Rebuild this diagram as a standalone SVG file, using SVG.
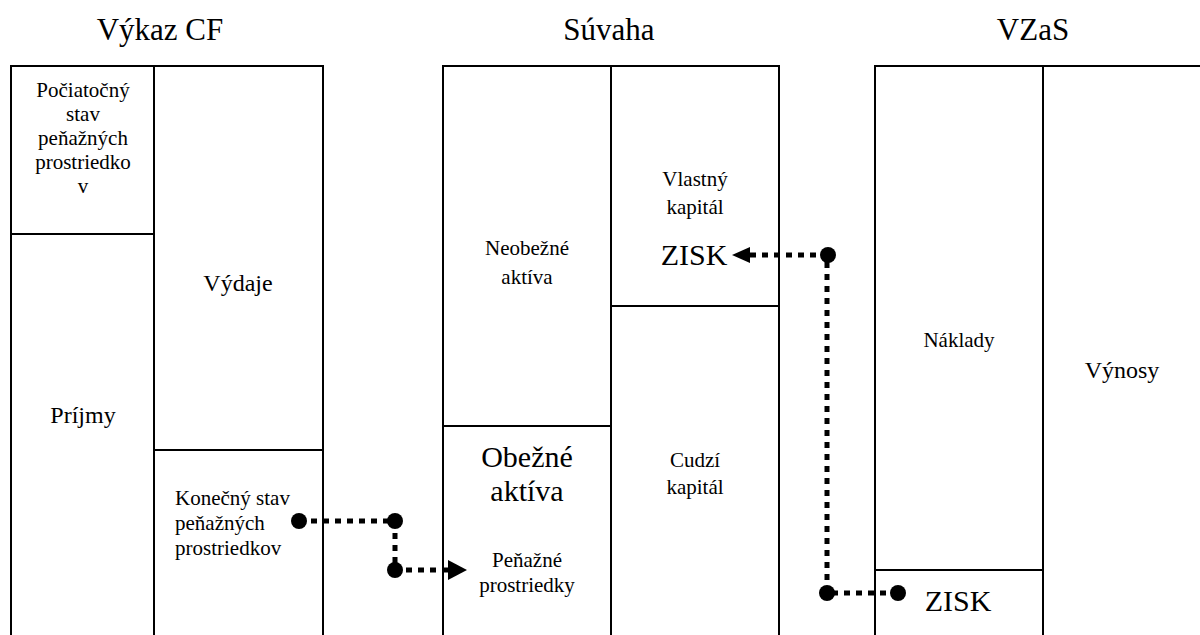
<svg xmlns="http://www.w3.org/2000/svg" width="1200" height="635" viewBox="0 0 1200 635">
<style>
.box{fill:none;stroke:#000;stroke-width:2}
text{fill:#000;text-anchor:middle}
.title{font-size:31px}
.s{font-size:21px}
.m{font-size:24px}
.l{font-size:30px}
.dot{stroke:#000;stroke-width:5;stroke-dasharray:6 6;fill:none}
.pt{fill:#000}
</style>
<g id="diagram" font-family="Liberation Serif, Times New Roman, DejaVu Serif, serif">
<g id="titles">
<text class="title" x="160" y="40">Výkaz CF</text>
<text class="title" x="609" y="40">Súvaha</text>
<text class="title" x="1033" y="40">VZaS</text>
</g>
<g id="cf">
<rect class="box" x="11" y="66" width="312" height="580"/>
<line class="box" x1="154" y1="66" x2="154" y2="646"/>
<line class="box" x1="11" y1="234" x2="154" y2="234"/>
<line class="box" x1="154" y1="450" x2="323" y2="450"/>
<text class="s"><tspan x="83" y="97">Počiatočný</tspan><tspan x="83" y="121">stav</tspan><tspan x="83" y="145">peňažných</tspan><tspan x="83" y="169">prostriedko</tspan><tspan x="83" y="193">v</tspan></text>
<text class="m" x="238" y="291">Výdaje</text>
<text class="m" x="83" y="423">Príjmy</text>
<text class="s" style="text-anchor:start"><tspan x="175" y="505">Konečný stav</tspan><tspan x="175" y="530">peňažných</tspan><tspan x="175" y="555">prostriedkov</tspan></text>
</g>
<g id="suvaha">
<rect class="box" x="443" y="66" width="336" height="580"/>
<line class="box" x1="611" y1="66" x2="611" y2="646"/>
<line class="box" x1="443" y1="426" x2="611" y2="426"/>
<line class="box" x1="611" y1="306" x2="779" y2="306"/>
<text class="s"><tspan x="527" y="255">Neobežné</tspan><tspan x="527" y="284">aktíva</tspan></text>
<text class="s"><tspan x="695" y="186">Vlastný</tspan><tspan x="695" y="214">kapitál</tspan></text>
<text class="l" x="694" y="265">ZISK</text>
<text class="l"><tspan x="527" y="467">Obežné</tspan><tspan x="527" y="501">aktíva</tspan></text>
<text class="s"><tspan x="527" y="567">Peňažné</tspan><tspan x="527" y="592">prostriedky</tspan></text>
<text class="s"><tspan x="695" y="467">Cudzí</tspan><tspan x="695" y="494">kapitál</tspan></text>
</g>
<g id="vzas">
<path class="box" d="M875,646 V66 H1202"/>
<line class="box" x1="1043" y1="66" x2="1043" y2="646"/>
<line class="box" x1="875" y1="570" x2="1043" y2="570"/>
<text class="s" x="959" y="347">Náklady</text>
<text class="m" x="1122" y="378">Výnosy</text>
<text class="l" x="958" y="611">ZISK</text>
</g>
<g id="connectors">
<path class="dot" d="M299,521 H395 V570 H450"/>
<circle class="pt" cx="299" cy="521" r="8"/>
<circle class="pt" cx="395" cy="521" r="8"/>
<circle class="pt" cx="395" cy="570" r="8"/>
<path d="M448,560 L467,570 L448,580 z" class="pt"/>
<path class="dot" d="M898,593 H827 V255 H748"/>
<circle class="pt" cx="898" cy="593" r="8"/>
<circle class="pt" cx="827" cy="593" r="8"/>
<circle class="pt" cx="828" cy="255" r="8"/>
<path d="M750,247 L732,255 L750,263 z" class="pt"/>
</g>
</g>
</svg>
